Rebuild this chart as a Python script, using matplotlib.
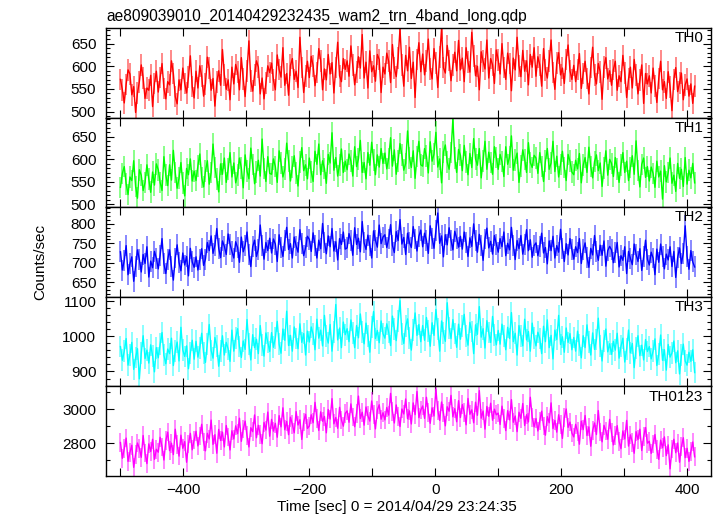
import numpy as np
import matplotlib
matplotlib.use("Agg")
import matplotlib.pyplot as plt
from matplotlib.ticker import MultipleLocator, FuncFormatter

plt.rcParams['font.family'] = ['Liberation Sans', 'DejaVu Sans']

# time bins (sec from 2014/04/29 23:24:35)
time = np.arange(-500, 414, 3)

# count rates (counts/sec), one row = 60 s
th0 = [
    571, 548, 519, 560, 592, 583, 537, 555, 498, 541, 566, 603, 574, 529, 552, 547, 580, 511, 562, 589,
    543, 575, 606, 551, 528, 566, 559, 612, 584, 533, 517, 570, 548, 596, 562, 541, 577, 623, 555, 530,
    589, 552, 601, 578, 534, 561, 620, 596, 547, 573, 512, 565, 590, 558, 637, 581, 549, 570, 526, 598,
    561, 604, 587, 548, 619, 572, 533, 590, 656, 567, 545, 581, 612, 598, 539, 574, 528, 563, 601, 586,
    607, 569, 548, 625, 593, 576, 641, 558, 584, 536, 602, 617, 571, 589, 553, 664, 597, 542, 579, 611,
    575, 622, 601, 557, 586, 639, 612, 548, 594, 570, 626, 583, 608, 541, 597, 653, 579, 566, 617, 593,
    612, 578, 645, 603, 559, 587, 621, 596, 670, 574, 609, 552, 634, 588, 601, 567, 626, 615, 542, 598,
    583, 629, 611, 564, 648, 596, 577, 618, 683, 602, 556, 624, 590, 642, 573, 609, 531, 615, 652, 588,
    627, 581, 611, 660, 594, 572, 639, 608, 553, 621, 684, 597, 585, 646, 613, 568, 602, 631, 590, 657,
    592, 618, 566, 641, 609, 587, 675, 623, 579, 600, 548, 632, 611, 594, 658, 574, 617, 603, 562, 636,
    614, 583, 650, 597, 571, 629, 606, 546, 618, 592, 664, 601, 577, 635, 589, 612, 559, 626, 598, 641,
    578, 621, 603, 556, 639, 592, 574, 611, 658, 586, 549, 607, 630, 581, 596, 562, 615, 647, 590, 571,
    602, 566, 593, 628, 551, 584, 611, 573, 539, 597, 642, 580, 561, 606, 588, 527, 599, 619, 572, 590,
    558, 593, 611, 547, 579, 566, 624, 585, 531, 572, 598, 552, 615, 580, 539, 569, 603, 518, 584, 561,
    579, 541, 596, 557, 520, 573, 611, 548, 566, 529, 588, 554, 502, 571, 597, 544, 563, 585, 526, 559,
    572, 534, 561, 518, 556,
]
th1 = [
    538, 569, 584, 546, 522, 561, 553, 597, 540, 514, 577, 565, 531, 549, 588, 556, 527, 572, 543, 590,
    577, 549, 531, 606, 565, 542, 588, 554, 620, 571, 536, 558, 593, 547, 519, 580, 566, 601, 552, 574,
    553, 586, 612, 560, 539, 574, 597, 545, 571, 634, 582, 556, 528, 590, 567, 603, 549, 578, 615, 561,
    592, 548, 566, 603, 581, 537, 610, 574, 557, 625, 589, 546, 572, 598, 563, 645, 580, 551, 606, 569,
    567, 601, 584, 549, 619, 592, 561, 578, 636, 597, 552, 583, 608, 570, 541, 594, 626, 575, 588, 557,
    603, 572, 551, 618, 589, 634, 566, 597, 580, 547, 611, 592, 659, 576, 604, 563, 588, 623, 571, 596,
    577, 612, 596, 563, 628, 584, 601, 642, 571, 593, 557, 615, 587, 638, 599, 566, 610, 583, 624, 591,
    614, 579, 602, 648, 585, 621, 567, 597, 635, 609, 576, 591, 663, 603, 582, 619, 558, 606, 640, 588,
    585, 624, 607, 570, 639, 596, 612, 660, 583, 601, 548, 617, 632, 594, 578, 615, 690, 603, 571, 622,
    609, 575, 631, 594, 566, 613, 582, 646, 601, 587, 624, 559, 597, 640, 578, 616, 593, 567, 628, 604,
    578, 611, 595, 562, 628, 589, 605, 652, 576, 598, 614, 549, 586, 621, 600, 571, 637, 593, 582, 609,
    603, 569, 615, 584, 551, 596, 624, 578, 592, 640, 573, 607, 561, 589, 618, 582, 553, 611, 596, 572,
    566, 598, 579, 613, 548, 587, 604, 571, 627, 584, 559, 595, 610, 575, 592, 540, 581, 619, 565, 600,
    591, 562, 604, 578, 549, 587, 615, 571, 596, 553, 582, 608, 567, 641, 575, 539, 589, 603, 560, 584,
    552, 583, 569, 538, 596, 561, 574, 512, 586, 550, 571, 603, 547, 565, 529, 591, 558, 578, 540, 604,
    545, 576, 559, 591, 548,
]
th2 = [
    728, 681, 706, 744, 669, 697, 715, 652, 690, 733, 708, 676, 721, 698, 741, 663, 704, 687, 729, 711,
    684, 719, 762, 697, 672, 708, 733, 689, 655, 712, 746, 701, 679, 725, 694, 716, 666, 737, 702, 688,
    715, 681, 707, 736, 693, 709, 752, 731, 769, 724, 745, 788, 737, 713, 756, 742, 721, 774, 748, 729,
    712, 754, 739, 701, 766, 728, 745, 779, 722, 690, 741, 758, 716, 735, 797, 744, 709, 752, 731, 763,
    725, 761, 748, 703, 772, 739, 716, 757, 791, 734, 749, 712, 766, 743, 727, 785, 750, 718, 738, 768,
    760, 729, 777, 744, 712, 758, 736, 801, 752, 723, 769, 741, 788, 730, 754, 707, 762, 747, 779, 735,
    738, 775, 756, 719, 790, 747, 763, 728, 806, 751, 734, 771, 745, 712, 782, 758, 740, 797, 749, 766,
    772, 739, 761, 798, 744, 726, 780, 757, 811, 748, 765, 721, 776, 752, 739, 793, 761, 730, 768, 784,
    741, 776, 758, 724, 795, 762, 737, 783, 828, 750, 769, 715, 772, 746, 790, 758, 733, 781, 763, 740,
    768, 735, 779, 751, 716, 764, 742, 800, 757, 727, 773, 745, 706, 761, 789, 738, 755, 722, 770, 748,
    727, 762, 741, 779, 718, 750, 733, 791, 745, 708, 757, 736, 770, 722, 748, 785, 731, 759, 714, 744,
    751, 718, 742, 776, 725, 739, 697, 756, 731, 768, 712, 744, 727, 786, 736, 703, 749, 720, 762, 734,
    709, 741, 726, 762, 698, 733, 751, 714, 688, 737, 720, 770, 728, 706, 745, 719, 756, 691, 731, 742,
    733, 700, 725, 752, 689, 718, 706, 741, 672, 729, 711, 695, 748, 721, 703, 736, 680, 715, 758, 709,
    694, 727, 712, 669, 735, 701, 748, 716, 684, 722, 707, 741, 690, 729, 662, 713, 738, 698, 724, 795,
    716, 683, 731, 702, 689,
]
th3 = [
    971, 932, 958, 994, 918, 947, 983, 906, 940, 965, 879, 952, 1002, 937, 961, 924, 976, 945, 899, 968,
    939, 978, 1011, 946, 922, 964, 951, 995, 917, 958, 984, 930, 1026, 961, 943, 973, 908, 952, 989, 935,
    986, 941, 968, 1009, 953, 926, 979, 1034, 960, 938, 997, 972, 915, 958, 1002, 947, 983, 964, 929, 1018,
    958, 996, 1022, 971, 940, 987, 963, 1048, 979, 933, 1005, 968, 992, 951, 1031, 976, 944, 1010, 983, 957,
    1011, 969, 996, 1043, 978, 952, 1021, 989, 1072, 974, 1003, 958, 1027, 994, 965, 1036, 983, 1008, 947, 1015,
    984, 1027, 1006, 962, 1049, 995, 1018, 973, 1060, 1002, 981, 1034, 958, 1012, 1091, 990, 1024, 968, 1041, 1005,
    1022, 985, 1047, 1009, 968, 1031, 996, 1064, 1013, 979, 1038, 1002, 955, 1026, 1071, 994, 1017, 982, 1044, 1008,
    995, 1036, 1012, 974, 1058, 1021, 988, 1043, 1102, 1007, 980, 1029, 1050, 996, 961, 1019, 1067, 1003, 1034, 985,
    1031, 989, 1054, 1016, 972, 1039, 1003, 1077, 1021, 958, 1044, 1010, 986, 1096, 1025, 994, 1048, 1008, 969, 1035,
    992, 1029, 1063, 1001, 975, 1040, 1014, 951, 1033, 1006, 1085, 998, 1022, 967, 1045, 1011, 983, 1057, 1004, 976,
    1017, 978, 1035, 1001, 962, 1026, 994, 1068, 985, 1009, 947, 1031, 1002, 973, 1049, 990, 1014, 958, 1038, 996,
    973, 1012, 994, 951, 1029, 985, 1047, 968, 1003, 936, 1018, 991, 1060, 977, 999, 955, 1024, 983, 1008, 962,
    997, 958, 1015, 976, 939, 1002, 968, 1033, 984, 947, 1010, 963, 991, 1052, 972, 930, 988, 1021, 956, 979,
    949, 986, 961, 1009, 938, 972, 995, 927, 964, 1018, 953, 980, 911, 968, 1002, 945, 975, 933, 991, 957,
    971, 936, 958, 993, 917, 949, 1004, 932, 962, 904, 977, 941, 953, 987, 925, 959, 893, 946, 978, 930,
    918, 955, 929, 962, 897,
]
th0123 = [
    2805, 2712, 2768, 2831, 2694, 2747, 2789, 2659, 2736, 2802, 2771, 2718, 2846, 2743, 2681, 2797, 2752, 2824, 2706, 2765,
    2748, 2836, 2779, 2702, 2815, 2866, 2757, 2801, 2734, 2883, 2792, 2725, 2848, 2771, 2810, 2689, 2797, 2859, 2762, 2820,
    2871, 2785, 2843, 2912, 2808, 2756, 2859, 2826, 2937, 2794, 2851, 2742, 2882, 2817, 2866, 2779, 2905, 2838, 2761, 2874,
    2826, 2903, 2857, 2948, 2812, 2884, 2931, 2845, 2779, 2892, 2869, 2967, 2833, 2906, 2851, 2798, 2923, 2878, 2984, 2842,
    2941, 2872, 2918, 2836, 2963, 2897, 3009, 2880, 2929, 2851, 2954, 2912, 2862, 2987, 2908, 2939, 2823, 2926, 2971, 2888,
    2902, 2968, 2921, 3041, 2947, 2876, 2985, 2930, 2958, 2862, 2999, 2943, 3063, 2915, 2952, 2889, 3012, 2937, 2901, 2976,
    2991, 2924, 3032, 2955, 2898, 2977, 3078, 2946, 2983, 2907, 3014, 2962, 2931, 3049, 2970, 2885, 2996, 3027, 2942, 2980,
    2938, 3011, 2966, 3094, 2987, 2920, 3026, 2958, 2899, 3002, 2973, 3061, 2945, 2991, 2914, 3038, 2969, 3105, 2951, 2996,
    3020, 2947, 3071, 2982, 2918, 3009, 2961, 3118, 2994, 2935, 3043, 2978, 2903, 3015, 2989, 3082, 2956, 3004, 2927, 3051,
    2952, 3028, 2983, 2909, 3064, 2971, 2997, 2921, 3042, 2965, 3110, 2948, 2990, 2884, 3017, 2959, 3036, 2936, 3001, 2968,
    2978, 2911, 3019, 2946, 2875, 2992, 2938, 3057, 2924, 2961, 2869, 2983, 2947, 3034, 2905, 2968, 2926, 3071, 2953, 2897,
    2946, 2873, 2931, 2989, 2902, 2848, 2957, 2921, 3038, 2887, 2935, 2866, 2968, 2910, 2829, 2951, 3002, 2894, 2925, 2861,
    2838, 2912, 2869, 2795, 2931, 2881, 2964, 2846, 2897, 2783, 2876, 2920, 2852, 2993, 2867, 2809, 2906, 2873, 2824, 2941,
    2862, 2791, 2847, 2904, 2811, 2769, 2873, 2826, 2935, 2784, 2850, 2807, 2742, 2869, 2822, 2883, 2758, 2839, 2893, 2801,
    2812, 2741, 2796, 2852, 2763, 2706, 2819, 2774, 2838, 2728, 2791, 2650, 2767, 2824, 2745, 2802, 2689, 2780, 2833, 2716,
    2771, 2694, 2752, 2808, 2721,
]

bands = ["TH0", "TH1", "TH2", "TH3", "TH0123"]
rates = [th0, th1, th2, th3, th0123]
errors = [24, 24, 27, 31, 55]
colors = ["#ff0000", "#00ff00", "#0000ff", "#00ffff", "#ff00ff"]
ylims = [(486.6, 684.5), (494, 692.6), (612, 843), (857.5, 1113), (2608, 3135)]
major_steps = [50, 50, 50, 100, 200]
minor_steps = [10, 10, 10, 20, 100]

W, H = 717, 516
fig = plt.figure(figsize=(W / 100, H / 100), dpi=100)
left, right, top, bottom = 106 / W, 711 / W, 1 - 28 / H, 1 - 476 / H
ph = (top - bottom) / 5

for i, name in enumerate(bands):
    ax = fig.add_axes([left, top - (i + 1) * ph, right - left, ph])
    ax.errorbar(time, rates[i], yerr=errors[i], fmt="none", ecolor=colors[i],
                elinewidth=1.3, alpha=0.5)
    ax.plot(time, rates[i], color=colors[i], lw=1.0)
    ax.set_xlim(-523, 438)
    ax.set_ylim(*ylims[i])
    ax.xaxis.set_major_locator(MultipleLocator(200))
    ax.xaxis.set_minor_locator(MultipleLocator(100))
    ax.yaxis.set_major_locator(MultipleLocator(major_steps[i]))
    ax.yaxis.set_minor_locator(MultipleLocator(minor_steps[i]))
    ax.tick_params(which="both", direction="in", top=True, right=True,
                   labelsize=11, width=0.8)
    ax.tick_params(axis="y", which="major", length=6, pad=7)
    ax.tick_params(axis="y", which="minor", length=3)
    ax.tick_params(axis="x", which="both", length=6, pad=5)
    ax.yaxis.set_major_formatter(FuncFormatter(lambda v, p: "%d" % v))
    for sp in ax.spines.values():
        sp.set_linewidth(1.0)
    if i < 4:
        ax.tick_params(axis="x", labelbottom=False)
    ax.text(1 - 8 / 605, 0.965, name, transform=ax.transAxes, ha="right",
            va="top", fontsize=11)

fig.text(106 / W, 1 - 21 / H, "ae809039010_20140429232435_wam2_trn_4band_long.qdp",
         ha="left", va="baseline", fontsize=11.2)
fig.text(397 / W, 1 - 511 / H, "Time [sec] 0 = 2014/04/29 23:24:35",
         ha="center", va="baseline", fontsize=11)
fig.text(40 / W, 1 - 262 / H, "Counts/sec", rotation=90, ha="center",
         va="center", fontsize=11)

fig.savefig("out.png", dpi=100)
